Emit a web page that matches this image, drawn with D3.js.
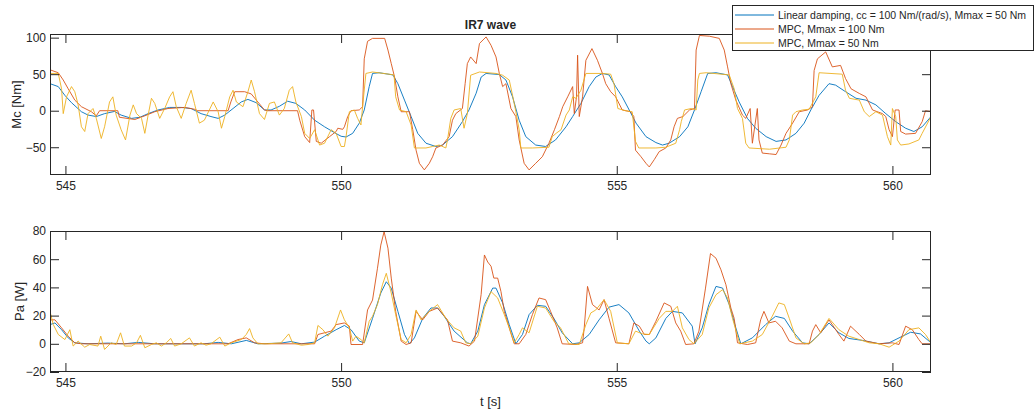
<!DOCTYPE html>
<html>
<head>
<meta charset="utf-8">
<script src="https://cdn.jsdelivr.net/npm/d3@7"></script>
<style>
  body { margin: 0; background: #fff; }
  svg text { font-family: "Liberation Sans", Arial, Helvetica, sans-serif; fill: #262626; }
</style>
</head>
<body>
<svg width="1035" height="412"></svg>
<script>
// values, [time s, value]
var seriesNames = [
  "Linear damping, cc = 100 Nm/(rad/s), Mmax = 50 Nm",
  "MPC, Mmax = 100 Nm",
  "MPC, Mmax = 50 Nm"
];
var xTicks = [545, 550, 555, 560];
var mcTicks = [-50, 0, 50, 100];
var paTicks = [-20, 0, 20, 40, 60, 80];

var mcLinear = [
  [544.72, 37], [544.87, 33], [544.99, 21], [545.11, 11], [545.29, -1.4], [545.41, -6], [545.56, -8],
  [545.71, -4], [545.89, -1], [546.01, -6], [546.2, -10.5], [546.35, -9], [546.5, -4], [546.68, 1],
  [546.89, 4.5], [547.1, 4.5], [547.28, 3], [547.46, -4], [547.64, -8], [547.77, -10.5], [547.89, -6],
  [548.04, 3], [548.19, 12], [548.31, 15.5], [548.46, 11], [548.61, 1], [548.73, 1], [548.88, 6],
  [549.03, 13], [549.18, 10], [549.34, 1], [549.52, -13], [549.7, -22], [549.88, -30], [550.0, -35],
  [550.09, -36], [550.21, -31], [550.33, -17], [550.42, 1], [550.51, 33], [550.57, 51], [550.69, 52],
  [550.94, 49], [551.03, 37], [551.15, 14.5], [551.27, -8], [551.39, -31], [551.54, -44.5], [551.72, -49],
  [551.84, -47], [552.02, -35.5], [552.2, -15], [552.32, 1], [552.45, 24], [552.54, 46], [552.63, 51],
  [552.87, 49.5], [552.99, 42], [553.11, 19], [553.23, -13], [553.35, -35.5], [553.53, -47], [553.71, -49],
  [553.89, -40], [554.08, -22], [554.2, -8], [554.35, 10], [554.5, 33], [554.62, 46], [554.74, 51],
  [554.86, 49], [554.98, 33], [555.1, 19], [555.24, -1], [555.35, -17], [555.53, -35.5], [555.71, -43.6],
  [555.83, -47], [555.95, -44.5], [556.14, -35.5], [556.29, -22], [556.41, 1], [556.53, 26], [556.65, 51],
  [556.8, 52], [557.01, 49], [557.1, 33], [557.22, 12], [557.37, -10.5], [557.52, -24], [557.71, -35.5],
  [557.89, -42], [558.07, -40], [558.25, -31], [558.4, -17], [558.52, 1], [558.67, 21], [558.85, 37],
  [558.97, 35], [559.15, 26], [559.34, 17], [559.52, 14.5], [559.7, 8], [559.88, -4], [560.06, -15],
  [560.24, -24], [560.39, -28.5], [560.54, -22], [560.7, -8]
];

var mcMpc100 = [
  [544.72, 56], [544.87, 52], [544.96, 42], [545.05, 30], [545.17, 14.5], [545.29, 5.5], [545.47, -1.4],
  [545.56, -7], [545.62, 0], [545.95, 0], [545.98, -9], [546.26, -12], [546.44, -7], [546.62, -1.4],
  [546.86, 3], [547.16, 4.5], [547.34, 2], [547.4, 0], [547.95, 0], [548.0, 12], [548.07, 26], [548.25, 26],
  [548.37, 23], [548.49, 12], [548.61, 1], [548.67, 0], [549.21, 0], [549.25, -13], [549.34, -35.5],
  [549.43, -43.6], [549.47, 1], [549.5, 1], [549.55, -42], [549.64, -44.5], [549.79, -35.5], [549.91, -28.5],
  [549.94, -24], [550.03, -25.5], [550.06, -22], [550.12, -8], [550.18, 0], [550.33, 1], [550.39, 5.5],
  [550.42, 71], [550.48, 95], [550.57, 99], [550.79, 99], [550.85, 83], [550.91, 64.5], [550.97, 46],
  [551.03, 19], [551.09, -1.4], [551.24, -1.4], [551.3, -26], [551.36, -54], [551.42, -72], [551.51, -81],
  [551.6, -72], [551.66, -63], [551.72, -51], [551.84, -47], [551.96, -35.5], [552.02, -13], [552.08, -4],
  [552.2, 3], [552.25, 37], [552.29, 64.5], [552.35, 73.6], [552.45, 64.5], [552.51, 92], [552.63, 101],
  [552.72, 89.5], [552.81, 73.6], [552.87, 51], [552.93, 33], [552.99, 37], [553.08, 3], [553.17, -8],
  [553.23, -40], [553.32, -72], [553.41, -81], [553.53, -72], [553.65, -63], [553.77, -44.5], [553.87, -26],
  [553.96, -8], [554.02, 5.5], [554.11, 19], [554.2, 33], [554.23, -4], [554.27, 19], [554.29, 76],
  [554.32, -8], [554.38, 19], [554.44, 69], [554.55, 85], [554.65, 69], [554.74, 51], [554.8, 37],
  [554.89, 26], [554.98, 19], [555.1, 1], [555.25, -1.4], [555.31, -8], [555.34, -54], [555.44, -63],
  [555.53, -72], [555.59, -77], [555.68, -67], [555.77, -56], [555.89, -51], [555.98, -40], [556.04, -22],
  [556.1, -10.5], [556.2, -8], [556.32, 1], [556.41, 3], [556.44, 83], [556.5, 103], [556.68, 102],
  [556.86, 99], [556.95, 83], [557.01, 60], [557.07, 37], [557.16, 14.5], [557.28, -6], [557.34, -10.5],
  [557.42, 3], [557.46, -44.5], [557.55, 3], [557.58, -40], [557.64, -58], [557.77, -59], [557.89, -60],
  [557.98, -47], [558.07, -31], [558.19, -17], [558.31, -1.4], [558.46, 1], [558.55, 5.5], [558.58, 55],
  [558.64, 71], [558.79, 80.5], [558.91, 60], [559.06, 62], [559.15, 44], [559.25, 30], [559.4, 23.6],
  [559.52, 19], [559.64, 1], [559.82, -4], [559.88, -8], [559.94, -26], [560.0, -35.5], [560.05, 1],
  [560.12, 1], [560.15, -28.5], [560.24, -32], [560.42, -31], [560.54, -15], [560.6, 0], [560.7, -1.4]
];

var mcMpc50 = [
  [544.72, 51], [544.87, 51], [544.93, 30], [544.96, -4], [545.02, 19], [545.11, 33], [545.17, 26],
  [545.23, 8], [545.29, -22], [545.35, -28.5], [545.41, -4], [545.5, 3], [545.56, -10.5], [545.65, -38],
  [545.71, -22], [545.8, 12], [545.86, 19], [545.92, -6], [546.01, -26], [546.09, -40], [546.17, -6],
  [546.23, 8], [546.29, -4], [546.38, -10.5], [546.44, -31], [546.5, -6], [546.56, 17], [546.62, 10],
  [546.71, -10.5], [546.8, 3], [546.89, 19], [546.95, 26], [547.01, 5.5], [547.1, -10.5], [547.19, 10],
  [547.28, 28], [547.34, 10], [547.43, -17], [547.52, -13], [547.61, 1], [547.68, 12], [547.77, -1.4],
  [547.83, -24], [547.89, -8], [547.98, 19], [548.04, 28], [548.1, 12], [548.22, 5.5], [548.31, 26],
  [548.37, 42], [548.43, 26], [548.52, -4], [548.61, -12], [548.7, 10], [548.79, 12], [548.88, -6],
  [548.97, 3], [549.06, 28], [549.12, 33], [549.18, 12], [549.28, -8], [549.34, -31], [549.43, -38],
  [549.52, -26], [549.61, -47], [549.7, -44.5], [549.82, -26], [549.91, -31], [550.0, -49], [550.06, -49],
  [550.09, -35.5], [550.15, -1.4], [550.24, 1], [550.3, -10.5], [550.36, -19.5], [550.39, 5.5],
  [550.45, 51], [550.57, 53], [550.87, 50], [550.96, 49], [550.99, 19], [551.06, 1], [551.18, -1.4],
  [551.27, -19.5], [551.33, -51], [551.54, -51], [551.66, -49], [551.78, -47], [551.9, -51], [551.93, -40],
  [551.99, -10.5], [552.05, 1], [552.17, 3], [552.23, -24], [552.29, -4], [552.35, 48.6], [552.51, 53],
  [552.81, 51], [552.93, 48.6], [553.05, 42], [553.11, 21], [553.17, -1.4], [553.23, -26], [553.26, -51],
  [553.47, -51], [553.77, -50], [553.83, -35.5], [553.9, -31], [553.99, -26], [554.08, -6], [554.14, 1],
  [554.2, 19], [554.26, 17], [554.35, 28], [554.44, 51], [554.74, 51], [554.89, 50], [554.95, 37],
  [555.02, 3], [555.16, 0], [555.28, -1.4], [555.34, -42], [555.4, -51], [555.71, -51], [555.89, -50],
  [556.07, -44.5], [556.14, -26], [556.17, -15], [556.23, 1], [556.35, 3], [556.44, 1], [556.47, 42],
  [556.5, 51], [556.62, 52], [557.04, 49], [557.13, 30], [557.19, 3], [557.28, -10.5], [557.34, -44.5],
  [557.4, -51], [557.77, -52.7], [558.07, -50], [558.13, -40], [558.19, -6], [558.25, -1.4], [558.37, 1],
  [558.49, 2], [558.61, 19], [558.67, 52], [559.09, 50], [559.15, 28], [559.22, 17], [559.4, 14.5],
  [559.49, -1.4], [559.58, -8], [559.7, -1.4], [559.82, -6], [559.91, -35.5], [559.97, -47], [560.0, 3],
  [560.06, -8], [560.09, -40], [560.15, -47], [560.3, -45.5], [560.48, -40], [560.54, -31], [560.7, -8]
];

var paLinear = [
  [544.72, 13.6], [544.81, 14.8], [544.93, 10], [545.05, 4.2], [545.17, 0.7], [545.41, 0], [545.77, 0.5],
  [546.07, 0], [546.32, 1], [546.62, 0], [547.1, 0], [547.52, 0], [547.77, 1], [548.01, 0], [548.28, 2.4],
  [548.49, 0], [548.91, 0.5], [549.09, 1.6], [549.28, 0], [549.52, 1.2], [549.7, 5.4], [549.91, 10],
  [550.06, 13], [550.18, 10], [550.33, 1.9], [550.42, 0.7], [550.57, 18], [550.72, 36], [550.82, 44],
  [550.91, 39.5], [551.03, 23], [551.15, 6.6], [551.24, 0], [551.33, 4.2], [551.48, 18], [551.63, 25.4],
  [551.75, 25.4], [551.87, 19.5], [552.05, 9], [552.29, 0.7], [552.35, 0], [552.48, 9], [552.6, 27.8],
  [552.75, 39.5], [552.81, 39.5], [552.93, 29], [553.05, 13.6], [553.17, 0], [553.29, 6.6], [553.41, 20.7],
  [553.56, 27.3], [553.71, 26.6], [553.86, 18], [554.01, 7.8], [554.2, 0], [554.32, 0.7], [554.5, 6.6],
  [554.68, 17], [554.86, 26], [555.04, 27.8], [555.22, 21.9], [555.41, 9], [555.53, 1.9], [555.59, 0],
  [555.71, 4.2], [555.89, 18], [556.01, 23], [556.19, 21.9], [556.37, 12.5], [556.42, 0], [556.55, 11.3],
  [556.67, 27.8], [556.8, 40.7], [556.92, 39.5], [557.04, 27.8], [557.16, 11.3], [557.25, 0], [557.46, 4.2],
  [557.7, 13.6], [557.88, 19.5], [558.04, 18], [558.19, 9], [558.37, 0.7], [558.49, 0], [558.67, 6.6],
  [558.85, 14.8], [559.03, 7.8], [559.21, 3.8], [559.46, 2.4], [559.76, 0], [559.94, 0.7], [560.12, 4.2],
  [560.33, 8.2], [560.51, 7], [560.7, 0.7]
];

var paMpc100 = [
  [544.72, 17], [544.81, 17], [544.93, 11.3], [545.05, 5.4], [545.17, 0.7], [545.29, 0], [547.95, 0],
  [548.13, 3], [548.28, 4.2], [548.43, 0.7], [548.61, 0], [549.52, 0], [549.58, 6.6], [549.82, 9],
  [549.91, 13.6], [550.06, 14.8], [550.15, 12.5], [550.18, -0.5], [550.39, -0.5], [550.48, 24], [550.57, 31],
  [550.66, 53.6], [550.72, 70], [550.78, 79.5], [550.85, 67.8], [550.91, 46.6], [550.99, 23], [551.09, 1.9],
  [551.18, -0.5], [551.27, 0.7], [551.36, 23], [551.48, 17], [551.6, 23], [551.75, 25.4], [551.93, 17],
  [552.02, 1.9], [552.17, 0.7], [552.32, -1.6], [552.42, 1.9], [552.54, 35], [552.6, 63], [552.66, 58],
  [552.72, 55], [552.77, 46.6], [552.84, 46.6], [552.9, 37], [552.96, 23], [553.05, 11.3], [553.14, 0],
  [553.23, 0], [553.35, 6.6], [553.47, 20.7], [553.59, 32.5], [553.71, 31.3], [553.8, 23], [553.92, 11.3],
  [554.01, 0], [554.26, -0.5], [554.38, 0.7], [554.41, 11.3], [554.47, 40.7], [554.56, 27.8], [554.68, 24],
  [554.77, 31.3], [554.86, 18], [554.98, 0.7], [555.22, 0], [555.31, 14.8], [555.41, 12.5], [555.5, 6.6],
  [555.59, 6.6], [555.71, 16], [555.86, 29], [555.98, 26.6], [556.07, 14.8], [556.16, 9], [556.25, -0.5],
  [556.4, 0], [556.49, 9], [556.61, 39.5], [556.7, 64], [556.8, 60.7], [556.89, 52.5], [556.98, 41.9],
  [557.07, 25.4], [557.13, 18], [557.19, 0.7], [557.37, -0.5], [557.52, 0.7], [557.61, 17], [557.67, 23],
  [557.76, 14.8], [557.88, 16], [558.0, 11.3], [558.13, 1.9], [558.25, 0], [558.49, 0], [558.55, 9],
  [558.61, 13.6], [558.7, 7.8], [558.85, 17], [559.03, 6.6], [559.12, 1.9], [559.24, 12.5], [559.4, 6.6],
  [559.52, 1.9], [559.76, 0], [560.0, 0.7], [560.12, -0.5], [560.24, 12.5], [560.36, 10], [560.48, 3],
  [560.54, 0], [560.7, 0]
];

var paMpc50 = [
  [544.72, 23], [544.78, 13.6], [544.87, 6.6], [544.99, 3], [545.08, 10], [545.14, -1.6], [545.23, 1.9],
  [545.35, -2.4], [545.44, -0.5], [545.59, -1.6], [545.64, 5.4], [545.71, -4], [545.83, 0.7], [545.92, -0.5],
  [546.0, 7.8], [546.07, -1.6], [546.2, -1.6], [546.29, 0.7], [546.36, 6], [546.44, -2.8], [546.56, -0.5],
  [546.65, 0.7], [546.74, -1.6], [546.83, 0.7], [546.91, 3.8], [546.98, -1.6], [547.1, 0], [547.25, 4.2],
  [547.34, -1.6], [547.46, 0.7], [547.55, -1], [547.64, 0], [547.8, 4.7], [547.89, -1.6], [548.01, 0.7],
  [548.19, 3], [548.28, 6.6], [548.34, 10.8], [548.4, 4.2], [548.49, 0], [548.67, 0], [548.91, 0.7],
  [549.05, 7], [549.12, 0.7], [549.28, -1], [549.4, -0.5], [549.52, 0.7], [549.58, 13], [549.67, 10],
  [549.76, 5.4], [549.88, 11.3], [549.99, 24], [550.06, 17], [550.15, 11.3], [550.21, 1.9], [550.27, 5.4],
  [550.36, 3], [550.42, 0.7], [550.51, 16], [550.57, 19.5], [550.66, 27.8], [550.75, 41.9], [550.82, 50],
  [550.91, 36], [550.99, 20.7], [551.09, 3], [551.18, 0.7], [551.27, 6.6], [551.36, 24], [551.45, 17],
  [551.6, 23], [551.75, 27.8], [551.9, 18], [552.05, 11.3], [552.17, 9], [552.26, 0.7], [552.35, 0],
  [552.48, 5.4], [552.6, 25.4], [552.72, 37], [552.84, 32.5], [552.96, 20.7], [553.05, 11.3], [553.14, 0.7],
  [553.23, 6.6], [553.29, 11.3], [553.41, 7.8], [553.56, 26.6], [553.71, 25.4], [553.86, 16], [553.98, 11.3],
  [554.13, 0], [554.32, -0.5], [554.44, 13.6], [554.53, 21.9], [554.62, 24], [554.77, 31.3], [554.89, 23],
  [555.01, 0.7], [555.22, 0], [555.34, 9], [555.47, 7], [555.59, 6.6], [555.77, 18], [555.89, 23],
  [556.01, 23], [556.1, 26.6], [556.19, 11.3], [556.31, 3], [556.4, 0], [556.55, 6.6], [556.67, 25.4],
  [556.8, 34.8], [556.92, 38.4], [557.01, 32.5], [557.1, 18], [557.23, 0], [557.46, 1.9], [557.64, 6.6],
  [557.82, 19.5], [557.94, 29], [558.04, 27.8], [558.13, 18], [558.25, 4.2], [558.4, 0], [558.52, 0.7],
  [558.67, 6.6], [558.85, 18], [559.03, 10], [559.21, 5.4], [559.4, 3], [559.58, 0.7], [559.76, 0],
  [559.94, -2.4], [560.12, 1.9], [560.3, 10], [560.48, 11.3], [560.6, 6.6], [560.7, 0.7]
];

var colors = ["#0072BD", "#D95319", "#EDB120"];

var svg = d3.select("svg"),
  left = 50,
  right = 931;

var xScale = d3.scaleLinear().domain([544.72, 560.7]).range([left, right]);

function drawPanel(top, bottom, yDomain, yTicks, data, label, labelX) {
  var yScale = d3.scaleLinear().domain(yDomain).range([bottom, top]);
  var g = svg.append("g");
  var clipId = "clip" + top;

  g.append("clipPath")
    .attr("id", clipId)
    .append("rect")
    .attr("x", left)
    .attr("y", top)
    .attr("width", right - left)
    .attr("height", bottom - top);

  var line = d3
    .line()
    .x(function (d) {
      return xScale(d[0]);
    })
    .y(function (d) {
      return yScale(d[1]);
    });

  g.append("g")
    .attr("clip-path", "url(#" + clipId + ")")
    .selectAll("path")
    .data(data)
    .enter()
    .append("path")
    .attr("d", line)
    .style("fill", "none")
    .style("stroke", function (d, i) {
      return colors[i];
    })
    .style("stroke-width", 0.9);

  // inward ticks on all four sides, MATLAB box style
  var axes = [
    [d3.axisBottom(xScale).tickValues(xTicks).tickFormat(d3.format("d")), "translate(0," + bottom + ")"],
    [d3.axisTop(xScale).tickValues(xTicks).tickFormat(""), "translate(0," + top + ")"],
    [d3.axisLeft(yScale).tickValues(yTicks), "translate(" + left + ",0)"],
    [d3.axisRight(yScale).tickValues(yTicks).tickFormat(""), "translate(" + right + ",0)"]
  ];
  axes.forEach(function (a) {
    var ax = g
      .append("g")
      .attr("transform", a[1])
      .call(a[0].tickSizeInner(-9).tickSizeOuter(0).tickPadding(6));
    ax.select(".domain").remove();
    ax.selectAll("line").attr("stroke", "#262626");
    ax.selectAll("text").style("font-size", "12px").attr("fill", "#262626");
  });
  g.selectAll(".tick text").filter(function () {
    return this.parentNode.parentNode.getAttribute("transform") === "translate(" + left + ",0)";
  }).attr("x", -4);

  g.append("rect")
    .attr("x", left + 0.5)
    .attr("y", top + 0.5)
    .attr("width", right - left - 1)
    .attr("height", bottom - top - 1)
    .style("fill", "none")
    .style("stroke", "#262626")
    .style("stroke-width", 1);

  svg
    .append("text")
    .attr("text-anchor", "middle")
    .attr("transform", "translate(" + labelX + "," + (top + bottom) / 2 + ")rotate(-90)")
    .style("font-size", "13px")
    .text(label);
}

drawPanel(34, 175, [-88, 105], mcTicks, [mcLinear, mcMpc100, mcMpc50], "Mc [Nm]", 21);
drawPanel(231, 372, [-20, 80], paTicks, [paLinear, paMpc100, paMpc50], "Pa [W]", 24);

svg
  .append("text")
  .attr("x", (left + right) / 2)
  .attr("y", 29)
  .attr("text-anchor", "middle")
  .style("font-size", "12px")
  .style("font-weight", "bold")
  .text("IR7 wave");

svg
  .append("text")
  .attr("x", (left + right) / 2)
  .attr("y", 406)
  .attr("text-anchor", "middle")
  .style("font-size", "13px")
  .text("t [s]");

// legend
var legend = svg.append("g").attr("transform", "translate(732,5)");
legend
  .append("rect")
  .attr("x", 0.5)
  .attr("y", 0.5)
  .attr("width", 301)
  .attr("height", 45)
  .style("fill", "#fff")
  .style("stroke", "#262626")
  .style("stroke-width", 1);
var rows = legend
  .selectAll(".row")
  .data(seriesNames)
  .enter()
  .append("g")
  .attr("transform", function (d, i) {
    return "translate(0," + (10 + i * 14) + ")";
  });
rows
  .append("line")
  .attr("x1", 3)
  .attr("x2", 42)
  .style("stroke", function (d, i) {
    return colors[i];
  })
  .style("stroke-width", 1);
rows
  .append("text")
  .attr("x", 46)
  .attr("dy", "0.35em")
  .style("font-size", "10.5px")
  .text(function (d) {
    return d;
  });
</script>
</body>
</html>
